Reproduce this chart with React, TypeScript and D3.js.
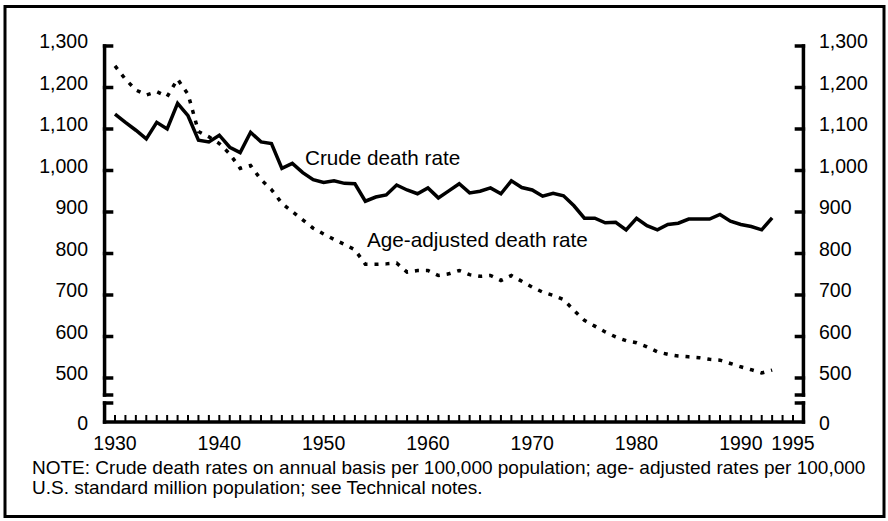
import * as d3 from 'd3'

// Death rates per 100,000, 1930-1993
const years = d3.range(1930, 1994)
const crudeRate = [
  1136, 1116, 1097, 1076, 1116, 1100, 1162, 1132, 1073, 1069,
  1085, 1056, 1043, 1092, 1069, 1065, 1005, 1017, 995, 978,
  971, 975, 969, 968, 926, 936, 941, 965, 953, 944,
  958, 934, 951, 968, 946, 950, 958, 944, 975, 959,
  953, 938, 945, 939, 915, 885, 885, 874, 875, 857,
  885, 867, 857, 870, 873, 883, 883, 883, 894, 878,
  870, 865, 857, 886
]
const ageAdjustedRate = [
  1252, 1220, 1194, 1182, 1190, 1178, 1220, 1184, 1094, 1081,
  1065, 1040, 1005, 1012, 978, 954, 921, 901, 881, 861,
  847, 834, 822, 809, 774, 774, 775, 777, 755, 759,
  759, 747, 751, 759, 749, 745, 747, 735, 747, 733,
  719, 707, 699, 689, 663, 639, 625, 611, 599, 590,
  585, 575, 563, 557, 553, 551, 549, 545, 543, 535,
  527, 520, 512, 519
]
const yTicks = [500, 600, 700, 800, 900, 1000, 1100, 1200, 1300]
const xLabels = [1930, 1940, 1950, 1960, 1970, 1980, 1990, 1995]
const noteLines = [
  'NOTE: Crude death rates on annual basis per 100,000 population; age- adjusted rates per 100,000',
  'U.S. standard million population; see Technical notes.'
]

const W = 888
const H = 521
const FONT = '"Liberation Sans", Arial, Helvetica, sans-serif'

export default function App() {
  const x = d3.scaleLinear().domain([1930, 1995]).range([115, 793])
  const y = d3.scaleLinear().domain([500, 1300]).range([378, 46])
  const zeroY = 422
  const breakTop = 395
  const breakBottom = 403
  const leftX = x(1929)
  const rightX = x(1996)
  const fmt = d3.format(',')

  const line = d3.line<number>()
    .x((_, i) => x(years[i]))
    .y(d => y(d))

  const yearTicks = d3.range(1930, 1996)

  return (
    <svg width={W} height={H} style={{ position: 'absolute', left: 0, top: 0, background: '#fff' }}
      fontFamily={FONT}>
      <rect x={5} y={6.5} width={879} height={510} fill="#fff" stroke="#000" strokeWidth={3} />

      {/* axes */}
      <g stroke="#000" strokeWidth={3.5} fill="none" strokeLinecap="square">
        <line x1={leftX} x2={leftX} y1={y(1300)} y2={breakTop} />
        <line x1={leftX} x2={leftX} y1={breakBottom} y2={zeroY} />
        <line x1={rightX} x2={rightX} y1={y(1300)} y2={breakTop} />
        <line x1={rightX} x2={rightX} y1={breakBottom} y2={zeroY} />
        <line x1={leftX} x2={rightX} y1={zeroY} y2={zeroY} />
        {[breakTop, breakBottom].map(b => (
          <g key={b}>
            <line x1={leftX} x2={leftX + 7} y1={b} y2={b} />
            <line x1={rightX} x2={rightX - 7} y1={b} y2={b} />
          </g>
        ))}
        {yTicks.map(t => (
          <g key={t}>
            <line x1={leftX} x2={leftX + 7} y1={y(t)} y2={y(t)} />
            <line x1={rightX} x2={rightX - 7} y1={y(t)} y2={y(t)} />
          </g>
        ))}
      </g>
      <g stroke="#000" strokeWidth={2}>
        {yearTicks.map(t => (
          <line key={t} x1={x(t)} x2={x(t)} y1={zeroY} y2={zeroY - 7} />
        ))}
      </g>

      {/* tick labels */}
      <g fontSize={19.5} fill="#000">
        {yTicks.map(t => (
          <g key={t}>
            <text x={88} y={y(t) + 2} textAnchor="end">{fmt(t)}</text>
            <text x={819} y={y(t) + 2} textAnchor="start">{fmt(t)}</text>
          </g>
        ))}
        <text x={88} y={zeroY + 8} textAnchor="end">0</text>
        <text x={819} y={zeroY + 8} textAnchor="start">0</text>
        {xLabels.map(t => (
          <text key={t} x={x(t)} y={450} textAnchor="middle">{t}</text>
        ))}
      </g>

      {/* series */}
      <path d={line(ageAdjustedRate) ?? ''} fill="none" stroke="#000" strokeWidth={3.5}
        strokeDasharray="4,7" />
      <path d={line(crudeRate) ?? ''} fill="none" stroke="#000" strokeWidth={3.5}
        strokeLinejoin="miter" />

      <g fontSize={20.7} fill="#000">
        <text x={305} y={165}>Crude death rate</text>
        <text x={367} y={247}>Age-adjusted death rate</text>
      </g>

      <g fontSize={19} fill="#000">
        {noteLines.map((s, i) => (
          <text key={i} x={32} y={474 + i * 20}>{s}</text>
        ))}
      </g>
    </svg>
  )
}
